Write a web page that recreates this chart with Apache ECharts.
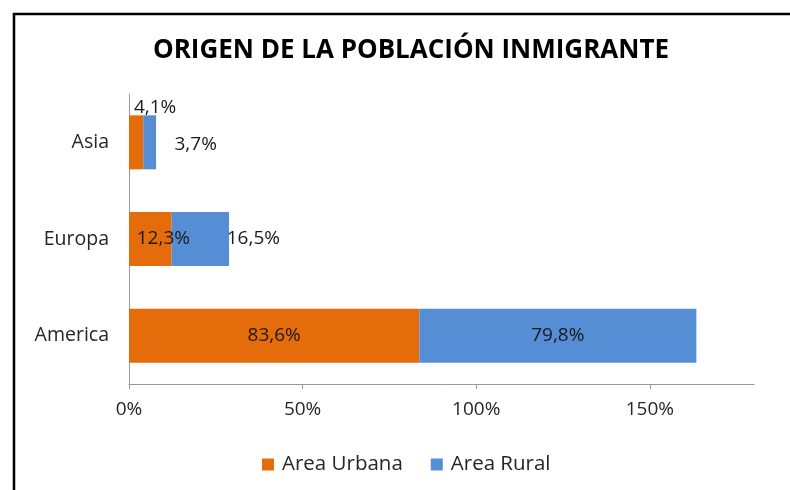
<!DOCTYPE html>
<html>
<head>
<meta charset="utf-8">
<script src="https://cdn.jsdelivr.net/npm/echarts@6/dist/echarts.min.js"></script>
<style>
  html, body { margin: 0; padding: 0; background: #fff; }
  #chart { width: 790px; height: 490px; }
</style>
</head>
<body>
<div id="chart"></div>
<script>
// datos
var categories = ['America', 'Europa', 'Asia'];
var urbana = [83.6, 12.3, 4.1];
var rural = [79.8, 16.5, 3.7];
var xTicks = [0, 50, 100, 150];

var myChart = echarts.init(document.getElementById('chart'));
var FONT = '"Open Sans", sans-serif';

function pct(v) {
  return v.toFixed(1).replace('.', ',') + '%';
}

// desplazamiento de etiquetas (como en el original de Excel)
var urbanaOffsets = [[0, 0], [13, 0], [19, -35]];
var ruralOffsets = [[0, 0], [53, 0], [46, 2]];

function build(values, offsets) {
  return values.map(function(v, i) {
    return { value: v, label: { offset: offsets[i] } };
  });
}

var option = {
  animation: false,
  textStyle: { fontFamily: FONT },
  title: {
    text: 'ORIGEN DE LA POBLACIÓN INMIGRANTE',
    left: 406,
    textAlign: 'center',
    top: 33,
    textStyle: { fontFamily: FONT, fontSize: 26, fontWeight: 'bold', color: '#000' }
  },
  graphic: [{
    type: 'rect',
    shape: { x: 14, y: 14, width: 800, height: 500 },
    style: { fill: 'none', stroke: '#000', lineWidth: 2.5 },
    silent: true
  }],
  legend: {
    top: 449,
    left: 257,
    icon: 'rect',
    itemWidth: 12,
    itemHeight: 12,
    itemGap: 28,
    textStyle: { fontFamily: FONT, fontSize: 20.5, color: '#262626', padding: [0, 0, 0, 3] },
    data: ['Area Urbana', 'Area Rural']
  },
  grid: { left: 129, right: 36, top: 94, bottom: 106 },
  xAxis: {
    type: 'value',
    min: 0,
    max: 180,
    interval: 50,
    splitLine: { show: false },
    axisLine: { show: true, lineStyle: { color: '#999' } },
    axisTick: { show: true, length: 5, lineStyle: { color: '#999' }, customValues: xTicks },
    axisLabel: {
      customValues: xTicks,
      margin: 16,
      fontSize: 19,
      color: '#262626',
      formatter: function(v) { return v + '%'; }
    }
  },
  yAxis: {
    type: 'category',
    data: categories,
    axisLine: { show: true, lineStyle: { color: '#999' } },
    axisTick: { show: false },
    axisLabel: { margin: 20, fontSize: 19.5, color: '#262626' }
  },
  series: [{
    name: 'Area Urbana',
    type: 'bar',
    stack: 'total',
    barWidth: 54,
    itemStyle: { color: '#E46C0A' },
    label: {
      show: true,
      position: 'inside',
      fontSize: 19,
      color: '#1a1a1a',
      formatter: function(p) { return pct(p.value); }
    },
    data: build(urbana, urbanaOffsets)
  }, {
    name: 'Area Rural',
    type: 'bar',
    stack: 'total',
    barWidth: 54,
    itemStyle: { color: '#558ED5' },
    label: {
      show: true,
      position: 'inside',
      fontSize: 19,
      color: '#1a1a1a',
      formatter: function(p) { return pct(p.value); }
    },
    data: build(rural, ruralOffsets)
  }]
};

myChart.setOption(option);
</script>
</body>
</html>
